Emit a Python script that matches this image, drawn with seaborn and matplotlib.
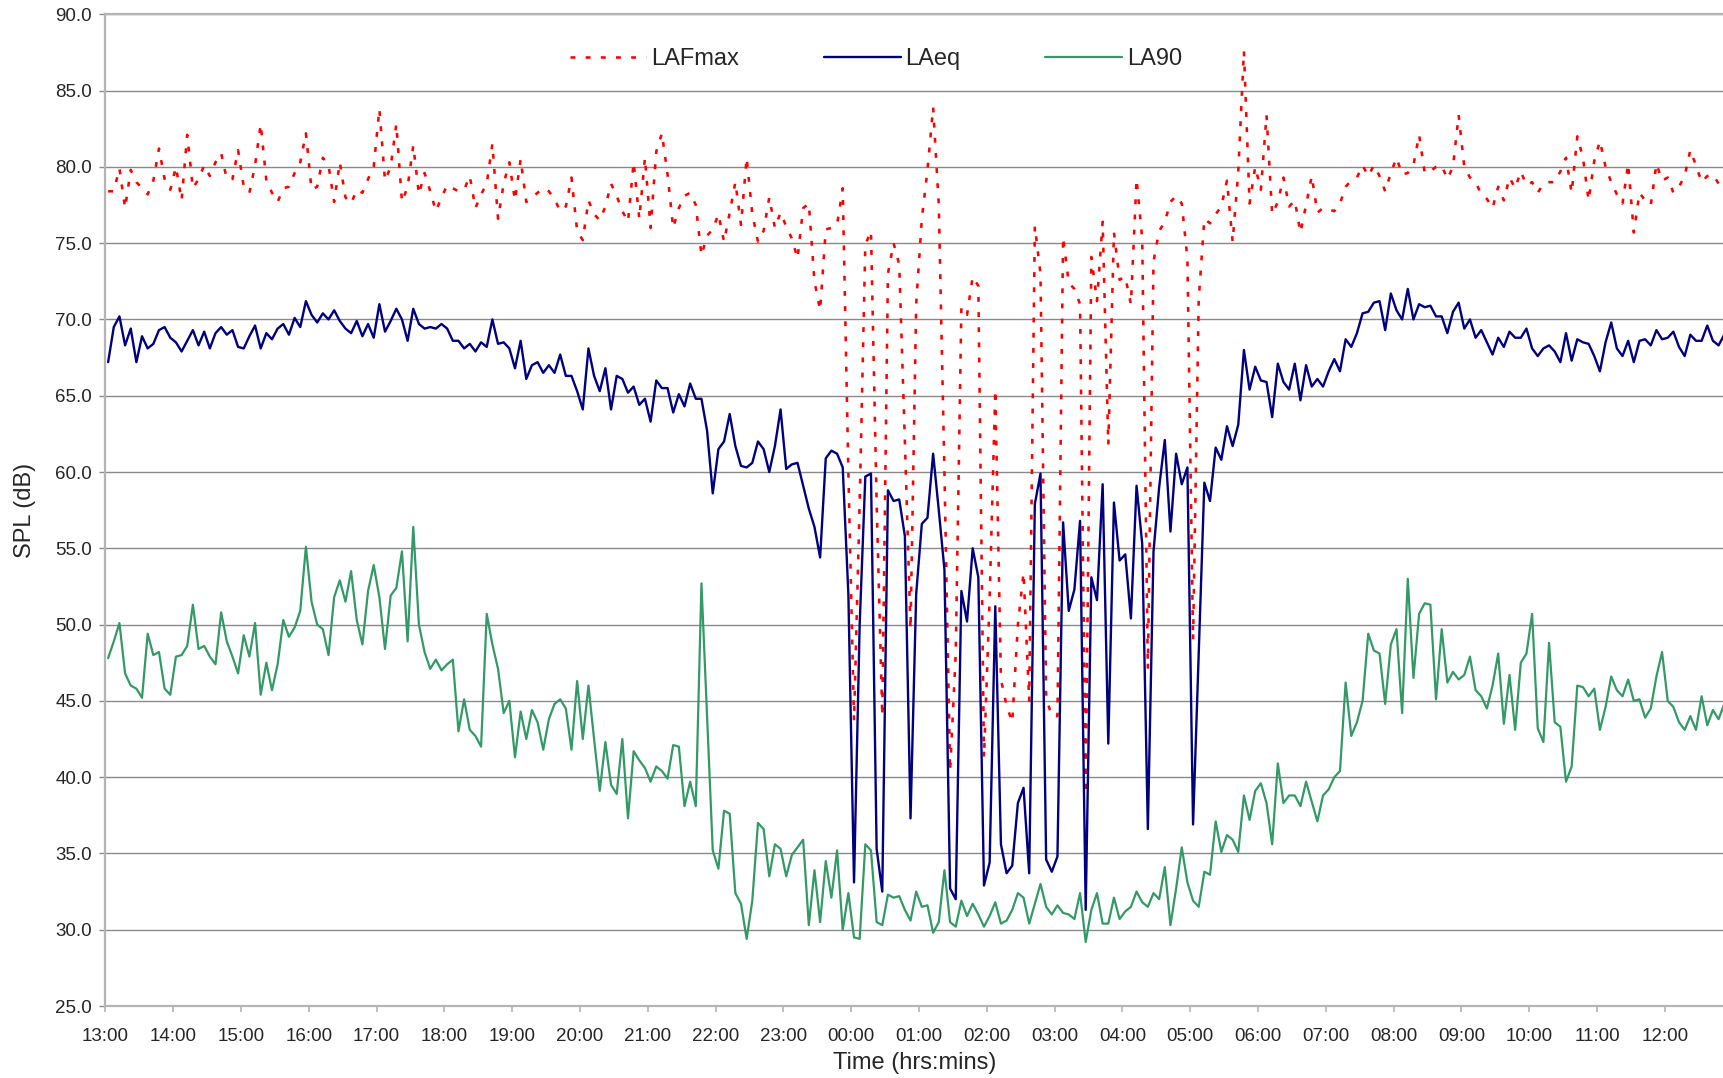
import numpy as np
import pandas as pd
import matplotlib
matplotlib.use("Agg")
import matplotlib.pyplot as plt
import seaborn as sns

# 5-minute noise levels (dB) from 13:00 to 12:55 next day
LAFMAX = [
    78.4, 78.4, 79.9, 77.3, 79.8, 79.0, 78.6, 78.2, 79.1, 81.2, 79.2, 78.5,
    80.0, 77.8, 82.1, 78.6, 79.2, 80.1, 79.4, 80.3, 80.9, 79.2, 79.2, 81.1,
    78.7, 78.3, 80.1, 82.8, 79.1, 78.3, 77.7, 78.6, 78.7, 79.6, 80.3, 82.2,
    78.5, 78.7, 80.6, 80.1, 77.7, 80.3, 78.0, 77.6, 78.5, 78.3, 79.2, 80.0,
    83.8, 79.1, 80.0, 82.8, 77.7, 78.7, 81.4, 78.2, 79.6, 78.4, 77.1, 78.0,
    78.8, 78.6, 78.4, 78.5, 79.4, 77.3, 78.2, 78.9, 81.5, 76.6, 78.9, 80.3,
    77.8, 80.5, 77.7, 78.0, 78.3, 78.6, 78.4, 77.9, 77.1, 77.4, 79.3, 75.8,
    75.2, 77.8, 76.9, 76.5, 77.4, 78.9, 78.1, 77.1, 76.4, 80.3, 76.6, 80.6,
    76.0, 81.0, 82.2, 79.5, 76.0, 77.3, 78.1, 78.3, 77.5, 74.2, 75.5, 75.9,
    76.9, 75.1, 77.0, 79.0, 76.2, 80.6, 76.9, 75.1, 75.8, 78.0, 76.0, 77.0,
    76.1, 75.3, 74.0, 77.3, 77.6, 72.5, 70.6, 75.9, 76.0, 76.2, 78.6, 60.0,
    43.7, 58.0, 74.9, 75.8, 58.0, 44.0, 73.0, 75.0, 73.6, 62.0, 49.7, 71.0,
    76.6, 79.8, 83.9, 77.5, 60.0, 40.4, 48.1, 70.8, 70.3, 72.8, 72.2, 41.3,
    51.7, 65.4, 46.4, 44.7, 43.6, 50.0, 53.4, 45.0, 76.1, 73.0, 45.2, 44.0,
    44.0, 75.4, 72.4, 72.0, 71.0, 38.9, 74.1, 71.2, 76.4, 61.8, 75.7, 72.6,
    72.8, 71.0, 79.2, 75.3, 47.1, 73.8, 75.8, 76.4, 77.7, 78.1, 77.6, 74.0,
    49.0, 71.3, 76.6, 76.3, 76.9, 77.4, 79.1, 75.1, 79.7, 87.6, 77.6, 80.0,
    78.5, 83.4, 76.9, 77.7, 79.3, 77.4, 77.8, 75.7, 77.5, 79.4, 77.0, 77.3,
    77.2, 77.1, 77.6, 78.7, 79.1, 79.3, 80.1, 79.4, 80.1, 79.4, 78.4, 79.6,
    80.6, 79.5, 79.6, 80.1, 82.1, 79.6, 79.7, 80.0, 80.1, 79.2, 80.0, 83.4,
    80.0, 79.3, 79.0, 78.2, 77.9, 77.3, 78.7, 77.8, 79.3, 78.6, 79.7, 78.8,
    79.0, 78.3, 78.9, 79.0, 79.0, 79.7, 80.6, 78.3, 82.0, 80.6, 77.8, 80.4,
    81.7, 80.0, 79.0, 78.2, 77.6, 80.2, 75.7, 78.3, 77.8, 77.5, 80.2, 79.1,
    79.3, 78.3, 78.7, 79.4, 81.1, 80.1, 79.0, 79.4, 79.5, 78.9, 78.8, 78.7,
]

LAEQ = [
    67.2, 69.5, 70.2, 68.3, 69.4, 67.2, 68.9, 68.1, 68.4, 69.3, 69.5, 68.8,
    68.5, 67.9, 68.6, 69.3, 68.3, 69.2, 68.1, 69.1, 69.5, 69.0, 69.3, 68.2,
    68.1, 68.9, 69.6, 68.1, 69.1, 68.7, 69.4, 69.7, 69.0, 70.1, 69.5, 71.2,
    70.3, 69.8, 70.4, 70.0, 70.6, 69.9, 69.4, 69.1, 69.9, 68.9, 69.7, 68.8,
    71.0, 69.2, 69.9, 70.7, 70.0, 68.6, 70.7, 69.7, 69.4, 69.5, 69.4, 69.7,
    69.4, 68.6, 68.6, 68.1, 68.4, 67.9, 68.5, 68.2, 70.0, 68.4, 68.5, 68.1,
    66.8, 68.6, 66.1, 67.0, 67.2, 66.5, 67.0, 66.5, 67.7, 66.3, 66.3, 65.3,
    64.1, 68.1, 66.3, 65.3, 66.8, 64.1, 66.3, 66.1, 65.2, 65.6, 64.4, 64.8,
    63.3, 66.0, 65.5, 65.5, 63.9, 65.1, 64.3, 65.8, 64.8, 64.8, 62.7, 58.6,
    61.5, 62.0, 63.8, 61.7, 60.4, 60.3, 60.6, 62.0, 61.5, 60.0, 61.7, 64.1,
    60.2, 60.5, 60.6, 59.1, 57.6, 56.4, 54.4, 60.9, 61.4, 61.2, 60.3, 52.0,
    33.1, 50.0, 59.7, 59.9, 35.3, 32.5, 58.8, 58.1, 58.2, 55.8, 37.3, 52.0,
    56.6, 57.0, 61.2, 57.5, 53.6, 32.7, 32.0, 52.2, 50.2, 55.0, 53.1, 32.9,
    34.4, 51.2, 35.6, 33.7, 34.2, 38.3, 39.3, 33.7, 57.9, 59.9, 34.6, 33.8,
    34.8, 56.7, 50.9, 52.3, 56.8, 31.3, 53.1, 51.6, 59.2, 42.2, 58.0, 54.2,
    54.6, 50.4, 59.1, 55.3, 36.6, 54.8, 59.0, 62.1, 56.1, 61.2, 59.2, 60.3,
    36.9, 48.0, 59.3, 58.1, 61.6, 60.8, 63.0, 61.7, 63.1, 68.0, 65.4, 66.9,
    66.0, 65.9, 63.6, 67.1, 65.9, 65.4, 67.1, 64.7, 67.0, 65.6, 66.1, 65.6,
    66.6, 67.4, 66.6, 68.7, 68.2, 69.1, 70.4, 70.5, 71.1, 71.2, 69.3, 71.7,
    70.6, 70.0, 72.0, 70.0, 71.0, 70.8, 70.9, 70.2, 70.2, 69.1, 70.5, 71.1,
    69.4, 70.0, 68.8, 69.3, 68.5, 67.7, 68.8, 68.2, 69.2, 68.8, 68.8, 69.4,
    68.1, 67.6, 68.1, 68.3, 67.9, 67.2, 69.1, 67.3, 68.7, 68.5, 68.4, 67.6,
    66.6, 68.5, 69.8, 68.1, 67.6, 68.6, 67.2, 68.6, 68.7, 68.3, 69.3, 68.7,
    68.8, 69.2, 68.2, 67.6, 69.0, 68.6, 68.6, 69.6, 68.6, 68.3, 69.0, 68.5,
]

LA90 = [
    47.8, 48.9, 50.1, 46.8, 46.0, 45.8, 45.2, 49.4, 48.0, 48.2, 45.8, 45.4,
    47.9, 48.0, 48.6, 51.3, 48.4, 48.6, 47.9, 47.4, 50.8, 48.9, 47.9, 46.8,
    49.3, 47.9, 50.1, 45.4, 47.5, 45.7, 47.4, 50.3, 49.2, 49.8, 50.9, 55.1,
    51.5, 50.0, 49.7, 48.0, 51.8, 52.9, 51.5, 53.5, 50.3, 48.7, 52.2, 53.9,
    51.8, 48.4, 51.9, 52.4, 54.8, 48.9, 56.4, 50.0, 48.2, 47.1, 47.7, 47.0,
    47.4, 47.7, 43.0, 45.1, 43.1, 42.7, 42.0, 50.7, 48.7, 47.1, 44.2, 45.0,
    41.3, 44.3, 42.5, 44.4, 43.6, 41.8, 43.8, 44.8, 45.1, 44.5, 41.8, 46.3,
    42.5, 46.0, 42.5, 39.1, 42.3, 39.5, 38.9, 42.5, 37.3, 41.7, 41.1, 40.6,
    39.7, 40.7, 40.4, 39.9, 42.1, 42.0, 38.1, 39.7, 38.1, 52.7, 44.0, 35.2,
    34.0, 37.8, 37.6, 32.4, 31.7, 29.4, 31.9, 37.0, 36.6, 33.5, 35.6, 35.3,
    33.5, 34.9, 35.4, 35.9, 30.3, 33.9, 30.5, 34.5, 32.1, 35.2, 30.0, 32.4,
    29.5, 29.4, 35.6, 35.2, 30.5, 30.3, 32.3, 32.1, 32.2, 31.3, 30.6, 32.5,
    31.5, 31.6, 29.8, 30.5, 33.9, 30.5, 30.2, 31.9, 30.9, 31.7, 31.0, 30.2,
    30.9, 31.8, 30.4, 30.6, 31.3, 32.4, 32.1, 30.4, 31.7, 33.0, 31.5, 31.0,
    31.6, 31.1, 31.0, 30.7, 32.4, 29.2, 31.3, 32.4, 30.4, 30.4, 32.1, 30.7,
    31.2, 31.5, 32.5, 31.8, 31.5, 32.4, 32.0, 34.1, 30.3, 32.7, 35.4, 33.1,
    31.9, 31.5, 33.8, 33.6, 37.1, 35.1, 36.2, 35.9, 35.1, 38.8, 37.2, 39.1,
    39.6, 38.3, 35.6, 40.9, 38.3, 38.8, 38.8, 38.1, 39.7, 38.4, 37.1, 38.8,
    39.2, 40.0, 40.4, 46.2, 42.7, 43.6, 45.0, 49.4, 48.3, 48.1, 44.8, 48.7,
    49.7, 44.2, 53.0, 46.5, 50.7, 51.4, 51.3, 45.1, 49.7, 46.2, 46.9, 46.4,
    46.7, 47.9, 45.7, 45.3, 44.5, 46.0, 48.1, 43.5, 46.7, 43.1, 47.5, 48.1,
    50.7, 43.2, 42.3, 48.8, 43.6, 43.3, 39.7, 40.7, 46.0, 45.9, 45.3, 45.8,
    43.1, 44.6, 46.6, 45.7, 45.3, 46.4, 45.0, 45.1, 43.9, 44.5, 46.6, 48.2,
    45.0, 44.6, 43.6, 43.1, 44.0, 43.1, 45.3, 43.4, 44.4, 43.8, 44.8, 45.0,
]

HOUR_LABELS = [
    "13:00", "14:00", "15:00", "16:00", "17:00", "18:00", "19:00", "20:00",
    "21:00", "22:00", "23:00", "00:00", "01:00", "02:00", "03:00", "04:00",
    "05:00", "06:00", "07:00", "08:00", "09:00", "10:00", "11:00", "12:00",
]

SERIES_NAMES = ["LAFmax", "LAeq", "LA90"]
SERIES_COLORS = ["#ff0000", "#000080", "#339966"]

INTERVAL_MIN = 5

sns.set_style("white")
plt.rcParams["font.family"] = ["Liberation Sans", "DejaVu Sans"]

# each 5-minute sample sits in the middle of its interval
n = len(LAEQ)
minutes = np.arange(n) * INTERVAL_MIN + INTERVAL_MIN / 2

df = pd.DataFrame({
    "minutes": np.tile(minutes, 3),
    "SPL": LAFMAX + LAEQ + LA90,
    "series": np.repeat(SERIES_NAMES, n),
})

fig = plt.figure(figsize=(17.24, 10.78), dpi=100)
ax = fig.add_axes([0.06108, 0.06679, 0.93892, 0.91995])

styles = {
    "LAFmax": dict(linestyle=(0, (1.9, 4.0)), linewidth=1.85),
    "LAeq": dict(linestyle="-", linewidth=1.7),
    "LA90": dict(linestyle="-", linewidth=1.6),
}
for name, color in zip(SERIES_NAMES, SERIES_COLORS):
    sub = df[df["series"] == name]
    sns.lineplot(data=sub, x="minutes", y="SPL", color=color, label=name,
                 estimator=None, ax=ax, **styles[name])

ax.set_ylim(25, 90)
ax.set_xlim(0, 1432.3)
ax.set_yticks(np.arange(25, 90.1, 5))
ax.set_yticklabels([f"{v:.1f}" for v in np.arange(25, 90.1, 5)])
ax.set_xticks(np.arange(len(HOUR_LABELS)) * 60)
ax.set_xticklabels(HOUR_LABELS)

ax.set_axisbelow(True)
ax.yaxis.grid(True, color="#8a8a8a", linewidth=1.0)
ax.xaxis.grid(False)

for side in ["left", "bottom", "top"]:
    ax.spines[side].set_visible(True)
    ax.spines[side].set_color("#b4b4b4")
    ax.spines[side].set_linewidth(1.6)
ax.spines["right"].set_visible(False)

ax.tick_params(axis="y", which="major", direction="out", length=4.5,
               width=1.0, color="#8a8a8a", labelsize=13.5, pad=5,
               left=True)
ax.tick_params(axis="x", which="major", direction="out", length=4.0,
               width=1.2, color="#b4b4b4", labelsize=13.5, pad=12,
               bottom=True)

ax.set_xlabel("Time (hrs:mins)", fontsize=17, labelpad=5)
ax.set_ylabel("SPL (dB)", fontsize=17, labelpad=14)

handles, labels = ax.get_legend_handles_labels()
ax.legend(handles, labels, loc="center", bbox_to_anchor=(0.476, 0.955),
          ncol=3, frameon=False, fontsize=17, handlelength=3.25,
          handletextpad=0.2, columnspacing=3.6)

fig.savefig("out.png", dpi=100)
